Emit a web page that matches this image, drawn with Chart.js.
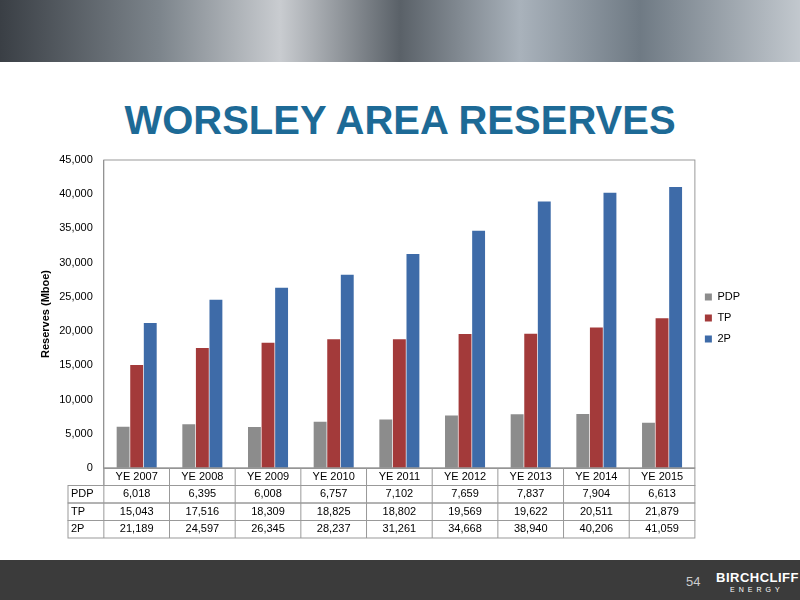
<!DOCTYPE html>
<html><head><meta charset="utf-8">
<script src="https://cdn.jsdelivr.net/npm/chart.js@4/dist/chart.umd.min.js"></script>
<style>
body{margin:0;width:800px;height:600px;overflow:hidden;background:#fff;font-family:"Liberation Sans",Arial,sans-serif;position:relative}
#banner{position:absolute;left:0;top:0;width:800px;height:62px;background:linear-gradient(90deg,#3a3f45 0%,#7d858c 20%,#c9ccd0 35%,#5a6168 50%,#a9b2bb 65%,#6f7a84 80%,#c2c8ce 100%)}
#title{position:absolute;left:0;width:800px;top:98px;text-align:center;font-weight:bold;font-size:40px;color:#1d6a96}
#footer{position:absolute;left:0;top:560px;width:800px;height:40px;background:#3b3b3b}
#pg{position:absolute;left:686px;top:574px;color:#ccc;font-size:13px}
#logo{position:absolute;left:716px;top:570px;color:#fff;font-weight:bold;font-size:13px;letter-spacing:0.5px}
#logo2{position:absolute;left:730px;top:586px;color:#fff;font-size:7px;letter-spacing:4px}
#wrap{position:absolute;left:0;top:150px;width:800px;height:400px}
</style></head><body>
<div id="banner"></div>
<div id="title">WORSLEY AREA RESERVES</div>
<div id="wrap"><canvas id="c"></canvas></div>
<div id="footer"></div><div id="pg">54</div><div id="logo">BIRCHCLIFF</div><div id="logo2">ENERGY</div>
<script>
var categories = ["YE 2007","YE 2008","YE 2009","YE 2010","YE 2011","YE 2012","YE 2013","YE 2014","YE 2015"];
var pdp = [6018,6395,6008,6757,7102,7659,7837,7904,6613];
var tp = [15043,17516,18309,18825,18802,19569,19622,20511,21879];
var p2 = [21189,24597,26345,28237,31261,34668,38940,40206,41059];
var seriesNames = ["PDP","TP","2P"];
var colors = ["#8c8c8c","#a33a3a","#3e6ba8"];
var FONT = "'Liberation Sans', Arial, sans-serif";

function fmt(v) { return Number(v).toLocaleString('en-US'); }

var tablePlugin = {
  id: 'tbl',
  afterDraw: function (ch) {
    var ctx = ch.ctx, x = ch.scales.x, a = ch.chartArea;
    var rows = [null, pdp, tp, p2];
    var rh = 17.5, left = 68;
    var w = (a.right - a.left) / categories.length;
    ctx.save();
    ctx.strokeStyle = '#999';
    ctx.lineWidth = 1;
    ctx.strokeRect(a.left, a.top, a.right - a.left, a.bottom - a.top);
    ctx.font = "11px " + FONT;
    ctx.fillStyle = '#000';
    ctx.textBaseline = 'middle';
    for (var r = 0; r < 4; r++) {
      var y = a.bottom + r * rh;
      var x0 = (r === 0) ? a.left : left;
      ctx.strokeRect(x0, y, a.right - x0, rh);
      if (r > 0) {
        ctx.textAlign = 'left';
        ctx.fillText(seriesNames[r - 1], left + 3, y + rh / 2);
      }
      for (var i = 0; i < categories.length; i++) {
        var cx = x.getPixelForValue(i);
        ctx.beginPath();
        ctx.moveTo(a.left + i * w, y);
        ctx.lineTo(a.left + i * w, y + rh);
        ctx.stroke();
        ctx.textAlign = 'center';
        var txt = (r === 0) ? categories[i] : fmt(rows[r][i]);
        ctx.fillText(txt, cx, y + rh / 2);
      }
    }
    ctx.restore();
  }
};

var datasets = [];
for (var k = 0; k < 3; k++) {
  datasets.push({ label: seriesNames[k], data: [pdp, tp, p2][k], backgroundColor: colors[k] });
}

var yTitle = { display: true, text: 'Reserves (Mboe)', color: '#000', font: { size: 11, weight: 'bold', family: FONT } };
var scales = {
  x: { grid: { display: false }, border: { color: '#888' }, ticks: { display: false } },
  y: {
    min: 0, max: 45000,
    ticks: { stepSize: 5000, color: '#000', font: { size: 11, family: FONT }, callback: function (v) { return fmt(v); } },
    grid: { display: false },
    border: { color: '#888' },
    title: yTitle
  }
};
var options = {
  animation: false,
  responsive: true,
  maintainAspectRatio: false,
  layout: { padding: { top: 10, bottom: 74, left: 35, right: 50 } },
  datasets: { bar: { categoryPercentage: 0.62, barPercentage: 0.95 } },
  plugins: {
    legend: { position: 'right', labels: { boxWidth: 7, boxHeight: 7, padding: 10, color: '#000', font: { size: 11, family: FONT } } },
    tooltip: { enabled: false }
  },
  scales: scales
};
new Chart(document.getElementById('c'), {
  type: 'bar',
  data: { labels: categories, datasets: datasets },
  options: options,
  plugins: [tablePlugin]
});
</script></body></html>
